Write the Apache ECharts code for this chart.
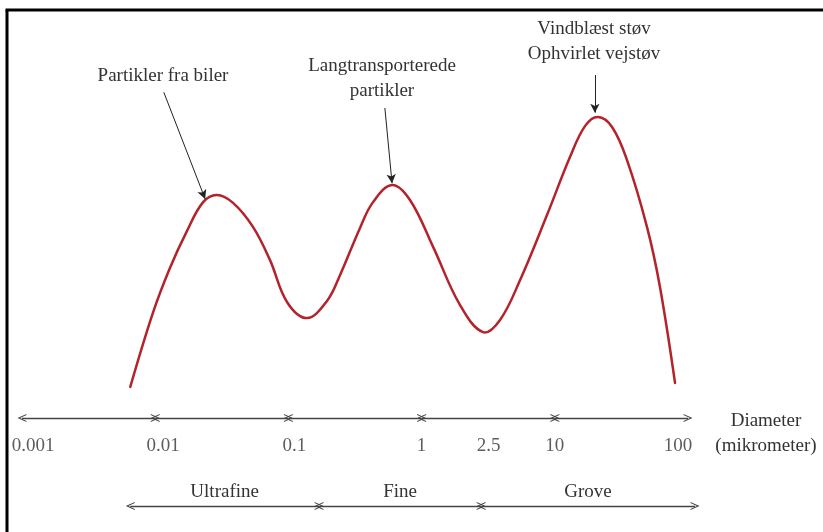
<!DOCTYPE html>
<html><head><meta charset="utf-8">
<script src="https://cdn.jsdelivr.net/npm/echarts@6/dist/echarts.min.js"></script>
<style>html,body{margin:0;padding:0;background:#fff}#c{width:823px;height:532px}</style>
</head><body><div id="c"></div>
<script>
// ---- data ----
const diameters = [0.0065, 0.0096, 0.0129, 0.0173, 0.0229, 0.0291, 0.0384, 0.0542, 0.0728, 0.0976,
  0.138, 0.195, 0.244, 0.345, 0.432, 0.600, 0.818, 1.22, 1.94, 2.89,
  3.88, 5.48, 8.74, 13.0, 16.9, 21.1, 26.9, 34.8, 49.2, 61.6, 79.9];
const concentration = [8.7, 29.3, 41.9, 52.2, 60.3, 62.3, 60.1, 53.4, 44.1, 32.4,
  27.9, 32.7, 39.9, 53.1, 60.3, 65.1, 60.9, 47.8, 31.6, 24.0,
  27.4, 38.5, 56.7, 72.9, 81.6, 84.1, 81.3, 72.1, 53.4, 36.6, 9.8];
const tickValues = [0.001, 0.01, 0.1, 1, 2.5, 10, 100];
const tickLabels = ['0.001', '0.01', '0.1', '1', '2.5', '10', '100'];
const decadeBounds = [0.001, 0.01, 0.1, 1, 10, 100];
const sizeClasses = ['Ultrafine', 'Fine', 'Grove'];
const classBounds = [0.0065, 0.17, 2.8, 113];
const annotTexts = ['Partikler fra biler', 'Langtransporterede\npartikler', 'Vindblæst støv\nOphvirlet vejstøv'];
const annotFrom = [[0.0116, 91.0], [0.53, 86.6], [20, 95.8]];
const annotTo = [[0.0237, 61.2], [0.60, 65.6], [20, 85.3]];
const axisTitle = 'Diameter\n(mikrometer)';

// ---- styles ----
const FONT = 'Liberation Serif';
const FS = 19;
const TXT = '#333';
const AX = '#444';
const chev = 'path://M5,0L10,9L8.6,9L5,2.6L1.4,9L0,9Z';
const tickShift = [11, 8, 6, 0, 14, 0, -10];

const chart = echarts.init(document.getElementById('c'), null, {renderer: 'canvas'});

const curve = diameters.map((d, i) => [d, concentration[i]]);
const decadeSegs = [];
for (let i = 0; i < decadeBounds.length - 1; i++) {
  decadeSegs.push([{coord: [decadeBounds[i], 0]}, {coord: [decadeBounds[i + 1], 0]}]);
}
const classSegs = sizeClasses.map((n, i) => [
  {coord: [classBounds[i], 0], name: n},
  {coord: [classBounds[i + 1], 0]}
]);
const annotSegs = annotFrom.map((f, i) => [{coord: f}, {coord: annotTo[i]}]);

const textBlocks = [
  {text: annotTexts[0], x: 163, y: 64},
  {text: annotTexts[1], x: 382, y: 54},
  {text: annotTexts[2], x: 594, y: 17},
  {text: axisTitle, x: 766, y: 409}
];

const option = {
  animation: false,
  backgroundColor: '#fff',
  grid: [
    {left: 22, right: 135, top: 60, bottom: 114},
    {left: 22, right: 127, top: 480, bottom: 26}
  ],
  xAxis: [
    {type: 'log', logBase: 10, min: 0.001, max: 100, gridIndex: 0, show: false},
    {type: 'log', logBase: 10, min: 0.001, max: 115, gridIndex: 1, show: false}
  ],
  yAxis: [
    {type: 'value', min: 0, max: 100, gridIndex: 0, show: false},
    {type: 'value', min: 0, max: 1, gridIndex: 1, show: false}
  ],
  series: [
    {
      type: 'custom', xAxisIndex: 0, yAxisIndex: 0, data: curve, clip: false, silent: true,
      renderItem: function (params, api) {
        if (params.dataIndex !== 0) return null;
        const pts = curve.map(p => api.coord(p));
        return {
          type: 'polyline',
          shape: {points: pts, smooth: 0.38},
          style: {stroke: '#b3232b', lineWidth: 2.5, fill: null, lineJoin: 'round', lineCap: 'round'}
        };
      }
    },
    {
      type: 'line', xAxisIndex: 0, yAxisIndex: 0, data: [], clip: false,
      markLine: {
        silent: true, animation: false,
        symbol: [chev, chev], symbolSize: [8, 9],
        lineStyle: {color: AX, width: 1.3, type: 'solid'},
        label: {show: false},
        data: decadeSegs
      }
    },
    {
      type: 'line', xAxisIndex: 0, yAxisIndex: 0, data: [], clip: false,
      markLine: {
        silent: true, animation: false,
        symbol: ['none', 'arrow'], symbolSize: [7, 9],
        lineStyle: {color: '#222', width: 1, type: 'solid'},
        label: {show: false},
        data: annotSegs
      }
    },
    {
      type: 'scatter', xAxisIndex: 0, yAxisIndex: 0, symbolSize: 0, clip: false, silent: true,
      data: tickValues.map((v, i) => ({
        value: [v, 0],
        label: {formatter: tickLabels[i], offset: [tickShift[i], 0]}
      })),
      label: {show: true, position: 'bottom', distance: 19, fontFamily: FONT, fontSize: FS, color: TXT}
    },
    {
      type: 'line', xAxisIndex: 1, yAxisIndex: 1, data: [], clip: false,
      markLine: {
        silent: true, animation: false,
        symbol: [chev, chev], symbolSize: [8, 9],
        lineStyle: {color: AX, width: 1.3, type: 'solid'},
        label: {show: true, position: 'insideMiddleTop', distance: 4, formatter: '{b}',
                fontFamily: FONT, fontSize: FS, color: TXT},
        data: classSegs
      }
    }
  ],
  graphic: [
    {type: 'line', shape: {x1: 7, y1: 10, x2: 7, y2: 532}, style: {stroke: '#000', lineWidth: 3}, silent: true},
    {type: 'line', shape: {x1: 5.5, y1: 10, x2: 823, y2: 10}, style: {stroke: '#000', lineWidth: 3}, silent: true}
  ].concat(textBlocks.map(b => ({
    type: 'text', x: b.x, y: b.y, silent: true,
    style: {text: b.text, fontFamily: FONT, fontSize: FS, lineHeight: 25, fill: TXT, align: 'center', verticalAlign: 'top'}
  })))
};
chart.setOption(option);
</script></body></html>
